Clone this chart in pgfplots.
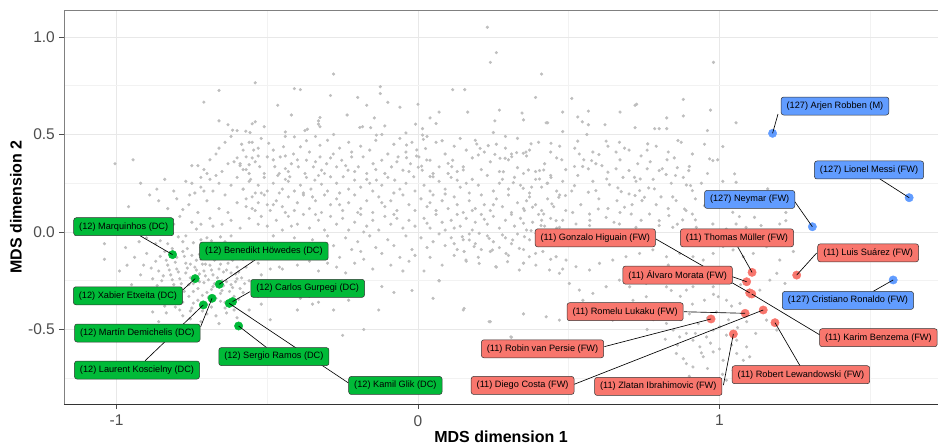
\documentclass[border=0pt]{standalone}
\usepackage{pgfplots}
\pgfplotsset{compat=1.18}
\usepackage{fontspec}
\setmainfont{Liberation Sans}
\definecolor{ptgrey}{RGB}{190,190,190}
\definecolor{ggred}{HTML}{F8766D}
\definecolor{gggreen}{HTML}{00BA38}
\definecolor{ggblue}{HTML}{619CFF}
\definecolor{gridmaj}{RGB}{232,232,232}
\definecolor{gridmin}{RGB}{242,242,242}
\definecolor{tickgrey}{RGB}{77,77,77}
\begin{document}
\begin{tikzpicture}[
  lab/.style={draw=black!80, line width=0.5bp, rounded corners=2.5bp, inner xsep=5.5bp, inner ysep=0pt,
    minimum height=18bp, font=\fontsize{9.2bp}{11bp}\selectfont, text=black, anchor=center},
  seg/.style={black, line width=0.65bp}]
\useasboundingbox (-64bp,-44bp) rectangle (874bp,404bp);
\begin{axis}[
  clip mode=individual,
  at={(0,0)}, anchor=south west,
  scale only axis, width=874bp, height=394bp,
  xmin=-1.1741, xmax=1.7247, ymin=-0.8821, ymax=1.1385,
  axis x line*=bottom, axis y line*=left,
  x axis line style={color=black!80, line width=0.6bp},
  y axis line style={color=black!50, line width=0.6bp},
  xtick={-1,0,1}, xticklabels={-1,0,1},
  ytick={-0.5,0,0.5,1}, yticklabels={-0.5,0.0,0.5,1.0},
  minor xtick={-0.5,0.5,1.5}, minor ytick={-0.75,-0.25,0.25,0.75},
  grid=both,
  major grid style={color=gridmaj, line width=0.9bp},
  minor grid style={color=gridmin, line width=0.6bp},
  tick align=outside, major tick length=5bp, minor tick length=0pt,
  tick style={color=tickgrey, line width=0.6bp},
  every tick label/.append style={inner sep=0pt, font=\fontsize{15.5bp}{17bp}\selectfont, text=tickgrey},
  xticklabel style={anchor=north, yshift=-6bp},
  yticklabel style={anchor=east, xshift=-4bp},
  xlabel={\bfseries MDS dimension 1}, ylabel={\bfseries MDS dimension 2},
  every axis x label/.style={at={(axis description cs:0.5,-0.0838)}, anchor=center, font=\fontsize{16bp}{18bp}\selectfont},
  every axis y label/.style={at={(axis description cs:-0.0549,0.5)}, anchor=center, rotate=90, font=\fontsize{16bp}{18bp}\selectfont},
  clip=true,
]
% background players
\addplot[only marks, mark=*, mark size=1.4bp, color=ptgrey, mark options={draw=none, fill=ptgrey}] coordinates {
(0.23,1.05) (0.26,0.92) (0.24,0.87) (0.41,0.81) (0.98,0.87) (-0.28,0.81)
(-0.54,0.765) (-0.41,0.735) (-0.39,0.73) (-0.66,0.726) (-0.125,0.745) (-0.125,0.71) (0.115,0.73) (0.155,0.73) (-0.29,0.70) (0.39,0.69) (0.51,0.685) (0.88,0.68)
(-0.71,0.666) (-0.465,0.65) (-0.20,0.69) (-0.10,0.665) (-0.17,0.65) (-0.06,0.64) (0.0,0.655) (0.165,0.615) (0.07,0.615) (0.27,0.625) (0.345,0.61) (-0.42,0.60) (-0.235,0.60) (0.04,0.585) (-0.145,0.585) (-0.33,0.57) (0.35,0.575) (0.255,0.57) (0.43,0.56) (0.48,0.615) (0.53,0.59) (0.545,0.565) (0.565,0.62) (0.565,0.55) (0.67,0.615) (0.725,0.655) (0.825,0.585) (0.825,0.53) (0.88,0.595) (0.97,0.625) (0.96,0.52) (1.055,0.56) (0.25,0.51) (0.29,0.49) (0.785,0.53) (0.80,0.53) (0.72,0.535) (0.62,0.55)
(-0.54,0.565) (-0.55,0.555) (-0.51,0.54)
(-0.325,0.587) (-0.184,0.54) (-0.157,0.535) (-0.008,0.553) (-0.571,0.517) (-0.557,0.51) (-0.615,0.522) (-0.44,0.513) (-0.375,0.52) (-0.367,0.527) (-0.33,0.553) (-0.325,0.54) (-0.193,0.536) (-0.138,0.497) (-0.04,0.508) (-0.11,0.544) (0.015,0.53) (0.015,0.497) (0.06,0.556) (0.72,0.65) (0.56,0.50) (0.48,0.515) (0.425,0.56)
(0.018,0.475) (0.08,0.468) (0.029,0.369) (0.04,0.284) (0.10,0.352) (0.112,0.335) (0.15,0.318) (0.195,0.451) (0.206,0.429) (0.233,0.443) (0.255,0.398) (0.272,0.378) (0.289,0.378) (0.311,0.386) (0.327,0.407) (0.349,0.404) (0.283,0.309) (0.316,0.253) (0.349,0.224) (0.366,0.318) (-0.038,0.446) (-0.038,0.381) (-0.004,0.421) (0.001,0.332) (0.012,0.338)
(-1.04,-0.06) (-1.04,-0.14) (-0.97,-0.08) (-0.94,-0.13) (-0.99,-0.20) (-0.95,-0.27) (-0.93,-0.36) (-0.90,-0.03) (-0.91,-0.17) (-0.88,-0.41) (-0.86,-0.46) (-0.80,-0.49) (-0.74,-0.51) (-0.66,-0.47) (-0.60,-0.44) (-0.56,-0.40) (-0.53,-0.33) (-0.52,-0.22) (-0.55,-0.14) (-0.58,-0.07) (-0.62,-0.02) (-0.68,0.03) (-0.75,0.05) (-0.82,0.02) (-0.87,-0.06) (-0.92,-0.22) (-0.89,-0.30) (-0.84,-0.38) (-0.78,-0.43) (-0.70,-0.42) (-0.64,-0.39) (-0.58,-0.31) (-0.56,-0.25) (-0.57,-0.18) (-0.60,-0.11) (-0.66,-0.07) (-0.72,-0.04) (-0.78,-0.05) (-0.84,-0.10) (-0.87,-0.15)
(-0.86,-0.20) (-0.85,-0.25) (-0.84,-0.29) (-0.83,-0.17) (-0.82,-0.22) (-0.81,-0.27) (-0.81,-0.33) (-0.80,-0.13) (-0.80,-0.19) (-0.79,-0.24) (-0.79,-0.30) (-0.78,-0.36) (-0.78,-0.10) (-0.77,-0.16) (-0.77,-0.21) (-0.76,-0.27) (-0.76,-0.33) (-0.75,-0.39) (-0.75,-0.12) (-0.74,-0.18) (-0.74,-0.24) (-0.73,-0.29) (-0.73,-0.35) (-0.72,-0.08) (-0.72,-0.14) (-0.71,-0.20) (-0.71,-0.26) (-0.70,-0.31) (-0.70,-0.37) (-0.69,-0.11) (-0.69,-0.17) (-0.68,-0.22) (-0.68,-0.28) (-0.67,-0.34) (-0.66,-0.13) (-0.66,-0.19) (-0.65,-0.25) (-0.65,-0.30) (-0.64,-0.36) (-0.63,-0.09) (-0.63,-0.16) (-0.62,-0.21) (-0.62,-0.27) (-0.61,-0.33) (-0.60,-0.18) (-0.60,-0.24) (-0.59,-0.29) (-0.58,-0.14) (-0.84,-0.33) (-0.88,-0.24) (-0.90,-0.11) (-0.83,-0.06) (-0.77,-0.02) (-0.70,-0.03) (-0.64,-0.05) (-0.61,-0.40) (-0.67,-0.43) (-0.72,-0.46) (-0.79,-0.40) (-0.82,-0.36)
(-0.845,-0.225) (-0.825,-0.195) (-0.805,-0.155) (-0.785,-0.265) (-0.765,-0.185) (-0.755,-0.235) (-0.745,-0.305) (-0.735,-0.145) (-0.725,-0.215) (-0.715,-0.325) (-0.705,-0.165) (-0.695,-0.245) (-0.685,-0.295) (-0.675,-0.145) (-0.665,-0.235) (-0.655,-0.315) (-0.645,-0.205) (-0.635,-0.255) (-0.625,-0.125) (-0.615,-0.285) (-0.605,-0.215) (-0.595,-0.345) (-0.585,-0.235) (-0.765,-0.085) (-0.815,-0.085) (-0.855,-0.125) (-0.865,-0.275) (-0.835,-0.415) (-0.755,-0.445) (-0.685,-0.385) (-0.795,-0.345) (-0.745,-0.365) (-0.715,-0.405) (-0.905,-0.32) (-0.925,-0.05) (-0.965,-0.17) (-0.54,-0.29) (-0.52,-0.37) (-0.50,-0.27) (-0.53,-0.16) (-0.51,-0.10) (-0.49,-0.19) (-0.46,-0.18) (-0.45,-0.19) (-0.49,-0.45)
(-0.835,-0.145) (-0.815,-0.245) (-0.795,-0.205) (-0.775,-0.125) (-0.775,-0.305) (-0.755,-0.165) (-0.745,-0.265) (-0.735,-0.195) (-0.725,-0.115) (-0.725,-0.255) (-0.715,-0.165) (-0.705,-0.225) (-0.695,-0.135) (-0.695,-0.335) (-0.685,-0.195) (-0.675,-0.265) (-0.665,-0.105) (-0.655,-0.165) (-0.645,-0.275) (-0.635,-0.195) (-0.625,-0.305) (-0.615,-0.145) (-0.605,-0.255) (-0.595,-0.205) (-0.575,-0.265) (-0.565,-0.105) (-0.745,-0.055) (-0.705,-0.075) (-0.685,-0.045) (-0.655,-0.025) (-0.735,0.015) (-0.795,-0.025) (-0.855,-0.045) (-0.885,-0.185) (-0.875,-0.345) (-0.805,-0.385) (-0.655,-0.355) (-0.635,-0.415) (-0.755,-0.405) (-0.815,-0.295)
(-1.005,0.35) (-0.945,0.37) (-0.84,0.27) (-0.81,0.21) (-0.866,0.22) (-0.78,0.115) (-0.757,0.19) (-0.75,0.25) (-0.75,0.34) (-0.73,0.34) (-0.72,0.23) (-0.69,0.27) (-0.67,0.29) (-0.65,0.31) (-0.63,0.35) (-0.61,0.36) (-0.59,0.34) (-0.57,0.32) (-0.71,0.32)
(-0.66,0.57) (-0.63,0.55) (-0.60,0.52) (-0.62,0.49) (-0.64,0.46) (-0.66,0.43) (-0.67,0.40) (-0.69,0.37) (-0.70,0.30) (-0.72,0.28) (-0.74,0.20) (-0.76,0.14) (-0.79,0.08) (-0.83,0.12) (-0.86,0.16) (-0.89,0.19) (-0.92,0.25) (-0.81,0.04) (-0.73,0.10) (-0.70,0.16) (-0.68,0.21) (-0.66,0.25) (-0.64,0.19) (-0.62,0.24) (-0.60,0.28) (-0.58,0.22) (-0.56,0.26) (-0.55,0.18) (-0.57,0.13) (-0.60,0.15) (-0.63,0.10) (-0.66,0.12) (-0.69,0.07) (-0.72,0.04) (-0.65,0.04) (-0.62,0.06) (-0.59,0.02) (-0.56,0.07) (-0.53,0.04) (-0.54,0.11) (-0.52,0.20) (-0.50,0.14) (-0.55,0.38) (-0.58,0.42) (-0.56,0.46) (-0.53,0.43) (-0.60,0.38) (-0.71,0.21) (-0.77,0.26) (-0.80,0.17) (-0.96,0.13) (-1.00,0.06)
(-0.57,0.385) (-0.545,0.42) (-0.50,0.385) (-0.495,0.455) (-0.48,0.42) (-0.457,0.385) (-0.446,0.437) (-0.413,0.40) (-0.39,0.437) (-0.37,0.468) (-0.36,0.41) (-0.325,0.445) (-0.30,0.47) (-0.281,0.40) (-0.26,0.43) (-0.23,0.46) (-0.22,0.41) (-0.19,0.44) (-0.16,0.42) (-0.14,0.47) (-0.10,0.40) (-0.08,0.45) (-0.04,0.41) (-0.02,0.46) (-0.44,0.49) (-0.41,0.488) (-0.34,0.49) (-0.52,0.48) (-0.55,0.46) (-0.585,0.45) (-0.28,0.50) (-0.12,0.50) (-0.06,0.48)
(-0.59,0.35) (-0.58,0.32) (-0.56,0.30) (-0.54,0.36) (-0.525,0.335) (-0.51,0.30) (-0.475,0.335) (-0.46,0.30) (-0.44,0.325) (-0.42,0.35) (-0.40,0.37) (-0.397,0.334) (-0.375,0.30) (-0.37,0.368) (-0.347,0.334) (-0.325,0.385) (-0.32,0.317) (-0.303,0.35) (-0.27,0.334) (-0.253,0.368) (-0.232,0.317) (-0.22,0.385) (-0.198,0.334) (-0.182,0.385) (-0.17,0.30) (-0.149,0.35) (-0.12,0.368) (-0.11,0.30) (-0.088,0.334) (-0.066,0.385) (-0.05,0.317) (-0.025,0.35) (-0.005,0.39) (-0.48,0.37) (-0.53,0.39) (-0.44,0.39) (-0.34,0.36) (-0.29,0.38) (-0.24,0.34) (-0.21,0.31) (-0.14,0.32) (-0.07,0.36) (-0.03,0.31) (-0.56,0.345) (-0.43,0.31) (-0.31,0.30)
(-0.58,0.22) (-0.555,0.27) (-0.53,0.24) (-0.51,0.28) (-0.50,0.21) (-0.48,0.25) (-0.465,0.29) (-0.45,0.22) (-0.43,0.26) (-0.425,0.283) (-0.41,0.21) (-0.39,0.24) (-0.37,0.28) (-0.355,0.22) (-0.342,0.266) (-0.32,0.245) (-0.30,0.21) (-0.29,0.283) (-0.27,0.25) (-0.248,0.283) (-0.23,0.22) (-0.21,0.266) (-0.19,0.23) (-0.17,0.27) (-0.15,0.21) (-0.138,0.266) (-0.12,0.24) (-0.10,0.28) (-0.077,0.266) (-0.06,0.22) (-0.04,0.25) (-0.014,0.283) (-0.01,0.21) (-0.46,0.20) (-0.38,0.20) (-0.26,0.20) (-0.33,0.29) (-0.44,0.27) (-0.54,0.20) (-0.08,0.20) (-0.16,0.25)
(-0.57,0.17) (-0.55,0.12) (-0.53,0.15) (-0.51,0.19) (-0.49,0.11) (-0.47,0.16) (-0.45,0.13) (-0.43,0.18) (-0.41,0.11) (-0.40,0.15) (-0.38,0.19) (-0.36,0.12) (-0.34,0.16) (-0.32,0.10) (-0.31,0.19) (-0.29,0.14) (-0.27,0.17) (-0.25,0.11) (-0.23,0.15) (-0.21,0.19) (-0.19,0.12) (-0.17,0.16) (-0.15,0.10) (-0.13,0.18) (-0.11,0.13) (-0.09,0.16) (-0.07,0.11) (-0.05,0.19) (-0.03,0.14) (-0.01,0.11) (-0.44,0.10) (-0.35,0.18) (-0.20,0.10) (-0.12,0.15) (-0.26,0.14) (-0.48,0.14)
(-0.52,0.08) (-0.50,0.03) (-0.47,0.06) (-0.45,0.01) (-0.43,0.08) (-0.40,0.04) (-0.38,0.09) (-0.36,0.02) (-0.33,0.06) (-0.31,0.01) (-0.29,0.08) (-0.27,0.04) (-0.25,0.07) (-0.23,0.01) (-0.21,0.05) (-0.19,0.09) (-0.17,0.03) (-0.15,0.06) (-0.13,0.01) (-0.11,0.08) (-0.09,0.04) (-0.07,0.07) (-0.05,0.02) (-0.03,0.06) (-0.01,0.03) (-0.42,0.03) (-0.34,0.09) (-0.18,0.00) (-0.08,0.09)
(-0.48,-0.02) (-0.44,-0.06) (-0.41,-0.03) (-0.38,-0.09) (-0.35,-0.04) (-0.32,-0.12) (-0.30,-0.02) (-0.28,-0.07) (-0.26,-0.13) (-0.24,-0.03) (-0.22,-0.09) (-0.20,-0.05) (-0.18,-0.14) (-0.16,-0.02) (-0.14,-0.08) (-0.12,-0.11) (-0.10,-0.04) (-0.08,-0.07) (-0.06,-0.13) (-0.04,-0.02) (-0.02,-0.09) (-0.27,-0.18) (-0.21,-0.16) (-0.15,-0.19) (-0.09,-0.17) (-0.03,-0.15) (-0.36,-0.15) (-0.42,-0.12)
(-0.47,-0.10) (-0.40,-0.17) (-0.33,-0.20) (-0.30,-0.16) (-0.24,-0.21) (-0.19,-0.10) (-0.05,-0.20) (-0.01,-0.12)
(0.025,0.428) (0.06,0.46) (0.09,0.40) (0.12,0.44) (0.16,0.42) (0.19,0.47) (0.22,0.41) (0.26,0.45) (0.29,0.43) (0.33,0.48) (0.37,0.42) (0.40,0.46) (0.44,0.41) (0.47,0.44) (0.03,0.49) (0.14,0.48) (0.31,0.40)
(0.003,0.385) (0.014,0.317) (0.04,0.368) (0.07,0.334) (0.10,0.30) (0.115,0.368) (0.15,0.334) (0.18,0.38) (0.21,0.32) (0.24,0.36) (0.27,0.31) (0.30,0.37) (0.33,0.33) (0.36,0.39) (0.39,0.31) (0.42,0.35) (0.46,0.38) (0.49,0.32) (0.05,0.30) (0.20,0.395) (0.35,0.30) (0.13,0.31)
(0.05,0.283) (0.02,0.24) (0.04,0.21) (0.07,0.26) (0.09,0.22) (0.11,0.28) (0.13,0.266) (0.14,0.23) (0.17,0.20) (0.18,0.27) (0.20,0.24) (0.23,0.29) (0.25,0.21) (0.27,0.25) (0.30,0.22) (0.32,0.28) (0.34,0.24) (0.37,0.20) (0.39,0.27) (0.41,0.23) (0.44,0.29) (0.46,0.21) (0.48,0.26) (0.16,0.25) (0.28,0.27) (0.43,0.25)
(0.01,0.17) (0.03,0.13) (0.05,0.19) (0.06,0.11) (0.08,0.16) (0.10,0.12) (0.12,0.18) (0.13,0.14) (0.15,0.10) (0.17,0.16) (0.19,0.12) (0.21,0.19) (0.22,0.14) (0.24,0.11) (0.26,0.17) (0.28,0.13) (0.30,0.19) (0.31,0.10) (0.33,0.15) (0.35,0.12) (0.37,0.18) (0.39,0.14) (0.41,0.11) (0.43,0.17) (0.45,0.13) (0.47,0.19) (0.49,0.11) (0.09,0.195) (0.25,0.14) (0.36,0.16) (0.04,0.15) (0.18,0.11)
(0.02,0.07) (0.04,0.02) (0.06,0.09) (0.08,0.05) (0.09,0.01) (0.11,0.06) (0.13,0.09) (0.14,0.03) (0.16,0.07) (0.18,0.01) (0.19,0.05) (0.21,0.09) (0.23,0.04) (0.25,0.08) (0.27,0.02) (0.29,0.06) (0.31,0.09) (0.32,0.03) (0.34,0.07) (0.36,0.01) (0.38,0.05) (0.40,0.09) (0.42,0.03) (0.44,0.07) (0.46,0.02) (0.48,0.06) (0.03,0.045) (0.12,0.02) (0.22,0.065) (0.35,0.045) (0.41,0.06)
(0.01,-0.03) (0.03,-0.08) (0.05,-0.05) (0.07,-0.01) (0.09,-0.07) (0.11,-0.03) (0.13,-0.09) (0.15,-0.04) (0.17,-0.01) (0.19,-0.06) (0.21,-0.09) (0.23,-0.02) (0.25,-0.05) (0.27,-0.08) (0.29,-0.03) (0.31,-0.06) (0.33,-0.01) (0.35,-0.09) (0.37,-0.04) (0.40,-0.07) (0.43,-0.02) (0.46,-0.05) (0.12,-0.06) (0.24,-0.10)
(0.04,-0.13) (0.08,-0.17) (0.12,-0.12) (0.16,-0.15) (0.20,-0.13) (0.26,-0.18) (0.30,-0.12) (0.35,-0.16) (0.39,-0.11) (0.44,-0.14) (0.48,-0.19) (0.07,-0.25) (0.02,-0.20)
(0.375,0.452) (0.441,0.455) (0.53,0.466) (0.624,0.466) (0.668,0.46) (0.762,0.452) (0.862,0.469) (0.873,0.46) (0.967,0.375) (0.978,0.366) (1.011,0.438) (0.994,0.37) (0.358,0.41) (0.477,0.37) (0.535,0.40) (0.576,0.366) (0.60,0.397) (0.657,0.41) (0.685,0.43) (0.729,0.35) (0.76,0.42) (0.826,0.37) (0.85,0.38) (0.90,0.336) (0.898,0.315) (0.403,0.315) (0.417,0.318) (0.519,0.336) (0.546,0.336) (0.565,0.324) (0.59,0.35) (0.63,0.307) (0.657,0.324) (0.70,0.315) (0.718,0.28) (0.723,0.26) (0.737,0.272) (0.76,0.324) (0.80,0.315) (0.81,0.324) (0.823,0.295) (0.854,0.29) (0.89,0.241) (0.904,0.238) (0.91,0.212) (0.377,0.23) (0.403,0.272) (0.428,0.25) (0.441,0.28) (0.467,0.178) (0.444,0.144) (0.489,0.187) (0.519,0.238) (0.565,0.204) (0.59,0.212) (0.626,0.272) (0.635,0.243) (0.663,0.226) (0.674,0.207) (0.70,0.195) (0.72,0.187) (0.735,0.212) (0.751,0.178) (0.765,0.226) (0.784,0.221) (0.806,0.18) (0.845,0.18) (0.856,0.161) (0.884,0.118) (0.91,0.092) (0.92,0.062) (0.95,0.135) (1.011,0.26) (1.05,0.298) (1.055,0.255) (1.013,0.204) (1.044,0.101) (1.066,0.079) (1.116,0.075) (1.138,0.033) (1.16,0.221) (1.22,0.10)
(0.353,0.11) (0.38,0.127) (0.417,0.092) (0.458,0.058) (0.513,0.10) (0.569,0.092) (0.598,0.118) (0.624,0.075) (0.67,0.10) (0.685,0.127) (0.707,0.092) (0.743,0.161) (0.768,0.092) (0.80,0.058) (0.832,0.084) (0.878,0.062) (0.889,0.11) (0.375,0.007) (0.408,0.033) (0.469,0.024) (0.524,0.041) (0.569,0.033) (0.624,0.007) (0.668,0.041) (0.723,0.024) (0.779,0.007) (0.80,0.033) (0.845,0.024) (0.923,0.024) (0.978,0.041) (1.022,0.015) (1.055,0.041) (1.088,0.024) (1.20,0.041) (1.22,0.058)
(0.52,0.43) (0.58,0.41) (0.63,0.44) (0.70,0.42) (0.74,0.39) (0.79,0.44) (0.83,0.41) (0.55,0.37) (0.61,0.34) (0.67,0.37) (0.77,0.36) (0.86,0.33) (0.53,0.29) (0.58,0.26) (0.68,0.28) (0.78,0.27) (0.84,0.25) (0.88,0.28) (0.51,0.21) (0.60,0.17) (0.66,0.16) (0.71,0.14) (0.79,0.14) (0.83,0.12) (0.54,0.14) (0.57,0.06) (0.63,0.12) (0.65,0.05) (0.74,0.06) (0.86,0.04) (0.92,0.17) (0.94,0.25) (0.96,0.30) (0.91,0.40) (0.95,0.45)
(0.147,-0.024) (0.17,-0.041) (0.203,-0.007) (0.236,-0.033) (0.28,-0.015) (0.314,-0.041) (0.353,-0.024) (0.391,-0.007) (0.425,-0.041) (0.469,-0.015) (0.153,-0.10) (0.186,-0.075) (0.247,-0.092) (0.292,-0.11) (0.336,-0.084) (0.369,-0.127) (0.414,-0.10) (0.458,-0.127) (0.491,-0.144) (0.159,-0.144) (0.203,-0.161) (0.258,-0.178) (0.297,-0.152) (0.336,-0.195) (0.391,-0.17) (0.436,-0.195) (0.469,-0.212) (0.524,-0.178) (0.569,-0.195) (0.602,-0.161) (0.646,-0.144) (0.69,-0.127) (0.735,-0.11) (0.779,-0.092) (0.824,-0.127) (0.868,-0.11) (0.912,-0.127) (0.946,-0.144) (0.979,-0.11) (1.012,-0.075) (1.045,-0.092) (1.079,-0.127) (1.112,-0.11) (1.156,-0.075) (1.20,-0.144) (1.245,-0.10)
(0.153,-0.392) (0.236,-0.46) (0.308,-0.538) (0.425,-0.435) (0.469,-0.452) (0.502,-0.40) (0.547,-0.35) (0.58,-0.315) (0.613,-0.418) (0.646,-0.452) (0.68,-0.384) (0.713,-0.35) (0.757,-0.332) (0.802,-0.384) (0.824,-0.469) (0.846,-0.503) (0.868,-0.538) (0.89,-0.52) (0.912,-0.555) (0.935,-0.589) (0.957,-0.538) (0.979,-0.503) (1.001,-0.486) (1.023,-0.529) (1.057,-0.555) (1.09,-0.589) (0.857,-0.623) (0.89,-0.675) (0.912,-0.692) (0.946,-0.64) (0.979,-0.615) (1.012,-0.658) (1.057,-0.623) (1.079,-0.658) (1.045,-0.709) (1.023,-0.76) (1.09,-0.726)
(0.979,-0.281) (0.996,-0.332) (1.023,-0.35) (1.068,-0.366) (1.10,-0.332) (1.134,-0.298) (1.167,-0.247) (1.19,-0.212) (1.217,-0.264) (0.935,-0.247) (0.912,-0.281) (0.89,-0.298) (0.857,-0.247) (0.824,-0.281) (0.779,-0.229) (0.757,-0.264) (0.735,-0.212) (0.624,-0.281) (0.668,-0.247) (0.702,-0.281) (0.535,-0.298) (0.502,-0.264) (1.156,-0.452) (1.19,-0.503)
(0.80,-0.42) (0.84,-0.40) (0.87,-0.45) (0.90,-0.42) (0.93,-0.47) (0.96,-0.44) (0.99,-0.41) (1.03,-0.45) (1.06,-0.49) (1.09,-0.46) (0.82,-0.55) (0.86,-0.58) (0.94,-0.62) (0.97,-0.57) (1.00,-0.60) (1.04,-0.58) (0.88,-0.65) (0.92,-0.52) (0.95,-0.35) (0.91,-0.37) (0.87,-0.33) (0.84,-0.30) (0.98,-0.32) (1.04,-0.38) (1.07,-0.27) (1.02,-0.25) (0.95,-0.20) (0.89,-0.19) (0.83,-0.17) (0.78,-0.45) (0.76,-0.50) (0.73,-0.43) (1.12,-0.52) (1.14,-0.40) (1.10,-0.64) (0.96,-0.70) (0.90,-0.74) (1.01,-0.73)
(-0.40,-0.40) (-0.35,-0.37) (-0.33,-0.36) (-0.36,-0.33) (-0.39,-0.34) (-0.29,-0.32) (-0.23,-0.35) (-0.28,-0.40) (-0.25,-0.53) (-0.18,-0.50) (-0.13,-0.40) (-0.12,-0.28) (-0.08,-0.31) (-0.02,-0.30) (0.05,-0.34) (0.07,-0.25) (0.15,-0.40) (0.24,-0.46) (0.31,-0.54) (0.35,-0.42) (0.35,-0.16)
};
% highlighted players
\addplot[only marks, mark=*, mark size=4.2bp, color=gggreen, mark options={draw=none, fill=gggreen}] coordinates {
(-0.814,-0.116) (-0.739,-0.239) (-0.659,-0.268) (-0.683,-0.340) (-0.712,-0.374) (-0.626,-0.366) (-0.615,-0.357) (-0.595,-0.482)
};
\addplot[only marks, mark=*, mark size=4.2bp, color=ggred, mark options={draw=none, fill=ggred}] coordinates {
(1.108,-0.207) (1.090,-0.255) (1.100,-0.312) (1.107,-0.318) (1.085,-0.417) (1.145,-0.400) (0.972,-0.446) (1.184,-0.465) (1.046,-0.523) (1.256,-0.221)
};
\addplot[only marks, mark=*, mark size=4.2bp, color=ggblue, mark options={draw=none, fill=ggblue}] coordinates {
(1.176,0.506) (1.629,0.176) (1.308,0.027) (1.576,-0.246)
};
% segments
\draw[seg] (axis cs:1.194,0.605) -- (axis cs:1.176,0.506);
\draw[seg] (axis cs:1.532,0.272) -- (axis cs:1.629,0.176);
\draw[seg] (axis cs:1.250,0.155) -- (axis cs:1.308,0.027);
\draw[seg] (axis cs:1.509,-0.305) -- (axis cs:1.576,-0.246);
\draw[seg] (axis cs:0.789,-0.036) -- (axis cs:1.100,-0.312);
\draw[seg] (axis cs:1.333,-0.528) -- (axis cs:1.107,-0.318);
\draw[seg] (axis cs:1.060,-0.075) -- (axis cs:1.108,-0.207);
\draw[seg] (axis cs:1.322,-0.108) -- (axis cs:1.256,-0.221);
\draw[seg] (axis cs:1.042,-0.229) -- (axis cs:1.090,-0.255);
\draw[seg] (axis cs:0.882,-0.409) -- (axis cs:1.085,-0.417);
\draw[seg] (axis cs:0.618,-0.588) -- (axis cs:0.972,-0.446);
\draw[seg] (axis cs:0.518,-0.781) -- (axis cs:1.145,-0.400);
\draw[seg] (axis cs:1.013,-0.785) -- (axis cs:1.046,-0.523);
\draw[seg] (axis cs:1.267,-0.686) -- (axis cs:1.184,-0.465);
\draw[seg] (axis cs:-0.922,-0.019) -- (axis cs:-0.814,-0.116);
\draw[seg] (axis cs:-0.541,-0.144) -- (axis cs:-0.659,-0.268);
\draw[seg] (axis cs:-0.780,-0.297) -- (axis cs:-0.739,-0.239);
\draw[seg] (axis cs:-0.557,-0.306) -- (axis cs:-0.615,-0.357);
\draw[seg] (axis cs:-0.721,-0.486) -- (axis cs:-0.683,-0.340);
\draw[seg] (axis cs:-0.905,-0.660) -- (axis cs:-0.712,-0.374);
\draw[seg] (axis cs:-0.502,-0.593) -- (axis cs:-0.595,-0.482);
\draw[seg] (axis cs:-0.231,-0.774) -- (axis cs:-0.626,-0.366);
% labels
\node[lab, fill=ggblue] at (axis cs:1.383,0.646) {(127) Arjen Robben (M)};
\node[lab, fill=ggblue] at (axis cs:1.496,0.318) {(127) Lionel Messi (FW)};
\node[lab, fill=ggblue] at (axis cs:1.100,0.167) {(127) Neymar (FW)};
\node[lab, fill=ggblue] at (axis cs:1.426,-0.351) {(127) Cristiano Ronaldo (FW)};
\node[lab, fill=ggred] at (axis cs:0.588,-0.030) {(11) Gonzalo Higuain (FW)};
\node[lab, fill=ggred] at (axis cs:1.058,-0.030) {(11) Thomas Müller (FW)};
\node[lab, fill=ggred] at (axis cs:1.493,-0.107) {(11) Luis Suárez (FW)};
\node[lab, fill=ggred] at (axis cs:0.861,-0.221) {(11) Álvaro Morata (FW)};
\node[lab, fill=ggred] at (axis cs:0.687,-0.409) {(11) Romelu Lukaku (FW)};
\node[lab, fill=ggred] at (axis cs:0.413,-0.599) {(11) Robin van Persie (FW)};
\node[lab, fill=ggred] at (axis cs:1.527,-0.542) {(11) Karim Benzema (FW)};
\node[lab, fill=ggred] at (axis cs:0.347,-0.787) {(11) Diego Costa (FW)};
\node[lab, fill=ggred] at (axis cs:0.797,-0.792) {(11) Zlatan Ibrahimovic (FW)};
\node[lab, fill=ggred] at (axis cs:1.270,-0.732) {(11) Robert Lewandowski (FW)};
\node[lab, fill=gggreen] at (axis cs:-0.976,0.027) {(12) Marquinhos (DC)};
\node[lab, fill=gggreen] at (axis cs:-0.511,-0.098) {(12) Benedikt Höwedes (DC)};
\node[lab, fill=gggreen] at (axis cs:-0.962,-0.327) {(12) Xabier Etxeita (DC)};
\node[lab, fill=gggreen] at (axis cs:-0.366,-0.289) {(12) Carlos Gurpegi (DC)};
\node[lab, fill=gggreen] at (axis cs:-0.931,-0.518) {(12) Martín Demichelis (DC)};
\node[lab, fill=gggreen] at (axis cs:-0.932,-0.708) {(12) Laurent Koscielny (DC)};
\node[lab, fill=gggreen] at (axis cs:-0.478,-0.639) {(12) Sergio Ramos (DC)};
\node[lab, fill=gggreen] at (axis cs:-0.075,-0.787) {(12) Kamil Glik (DC)};
% top border
\draw[black!50, line width=0.6bp] (rel axis cs:0,1) -- (rel axis cs:1,1);
\end{axis}
\end{tikzpicture}
\end{document}
